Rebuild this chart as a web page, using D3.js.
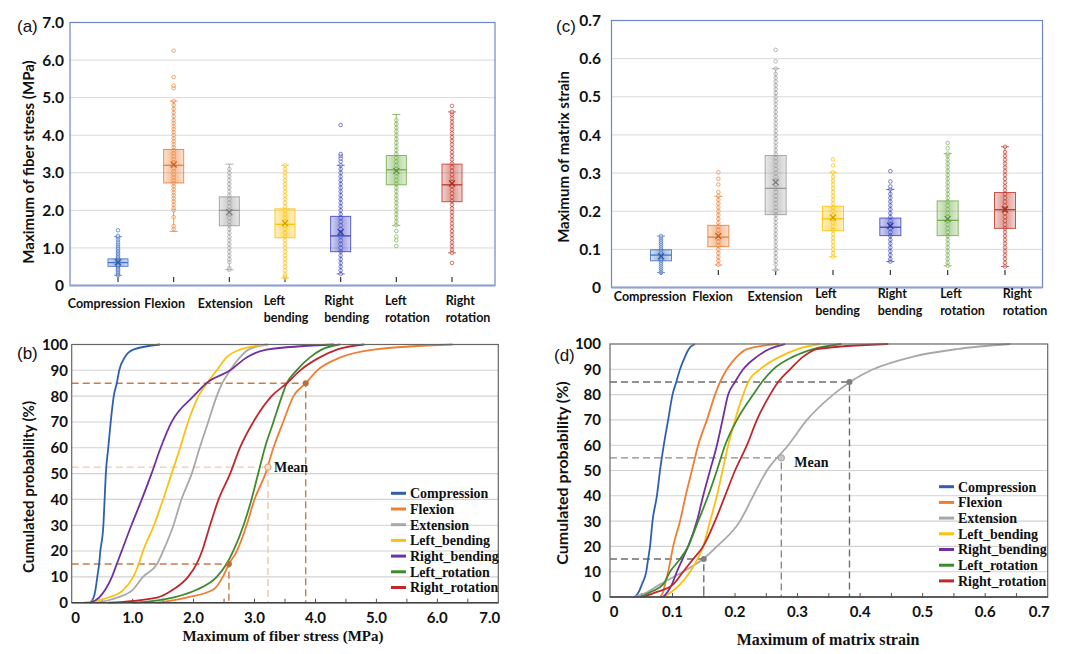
<!DOCTYPE html>
<html>
<head>
<meta charset="utf-8">
<script src="https://cdn.jsdelivr.net/npm/d3@7"></script>
<style>
body { margin: 0; background: #fff; }
svg { display: block; }
.sans { font-family: Lato, "Liberation Sans", sans-serif; font-weight: 700; fill: #111; }
.serif { font-family: "Liberation Serif", "DejaVu Serif", serif; font-weight: 700; fill: #111; }
.plain { font-family: "Liberation Sans", Arial, sans-serif; fill: #111; }
</style>
</head>
<body>
<svg id="chart" width="1080" height="654"></svg>
<script>
// ---- data ----
const categories = ["Compression", "Flexion", "Extension", "Left bending", "Right bending", "Left rotation", "Right rotation"];
const cdfNames = ["Compression", "Flexion", "Extension", "Left_bending", "Right_bending", "Left_rotation", "Right_rotation"];

const boxColors = ["#4472c4", "#ed7d31", "#9a9a9a", "#ffc000", "#3c44c0", "#70ad47", "#c0392b"];
const cdfColors = ["#2f5fb0", "#ef7d32", "#a8a8a8", "#fcc012", "#7030a0", "#3f8a2f", "#c0272d"];

// [whisker min, q1, median, q3, whisker max, mean]
const stressBox = [
    [0.27, 0.51, 0.61, 0.71, 1.30, 0.62],
    [1.44, 2.73, 3.20, 3.62, 4.91, 3.22],
    [0.42, 1.59, 2.00, 2.36, 3.23, 1.95],
    [0.20, 1.27, 1.63, 2.04, 3.20, 1.66],
    [0.31, 0.90, 1.32, 1.84, 3.20, 1.42],
    [1.60, 2.68, 3.08, 3.46, 4.55, 3.05],
    [0.87, 2.23, 2.68, 3.23, 4.62, 2.72]
];
const strainBox = [
    [0.039, 0.070, 0.085, 0.099, 0.135, 0.082],
    [0.059, 0.107, 0.132, 0.163, 0.239, 0.135],
    [0.046, 0.191, 0.260, 0.346, 0.574, 0.276],
    [0.081, 0.149, 0.180, 0.213, 0.302, 0.183],
    [0.068, 0.136, 0.158, 0.182, 0.257, 0.162],
    [0.057, 0.136, 0.176, 0.227, 0.351, 0.180],
    [0.055, 0.155, 0.204, 0.249, 0.369, 0.205]
];

// individual samples drawn as small circles
const stressDots = [
    [0.27, 0.3, 0.33, 0.36, 0.4, 0.43, 0.46, 0.5, 0.53, 0.56, 0.6, 0.63, 0.66, 0.7, 0.73, 0.76, 0.8, 0.84, 0.88, 0.92, 0.96, 1.0, 1.05, 1.1, 1.15, 1.22, 1.28, 1.32, 1.47],
    [1.5, 1.58, 1.82, 2.0, 2.06, 2.15, 2.24, 2.32, 2.4, 2.48, 2.56, 2.64, 2.72, 2.8, 2.88, 2.96, 3.04, 3.12, 3.2, 3.28, 3.36, 3.44, 3.52, 3.6, 3.68, 3.76, 3.84, 3.92, 4.0, 4.08, 4.16, 4.24, 4.32, 4.4, 4.5, 4.6, 4.7, 4.8, 4.91, 5.25, 5.32, 5.55, 6.25],
    [0.42, 0.46, 0.62, 0.7, 0.8, 0.9, 1.0, 1.1, 1.2, 1.3, 1.4, 1.5, 1.6, 1.7, 1.8, 1.9, 2.0, 2.1, 2.2, 2.3, 2.4, 2.5, 2.6, 2.7, 2.8, 2.9, 3.0, 3.1],
    [0.2, 0.25, 0.3, 0.4, 0.5, 0.6, 0.7, 0.8, 0.9, 1.0, 1.1, 1.2, 1.3, 1.4, 1.5, 1.6, 1.7, 1.8, 1.9, 2.0, 2.1, 2.2, 2.3, 2.4, 2.5, 2.6, 2.7, 2.8, 2.9, 3.0, 3.1, 3.2],
    [0.31, 0.4, 0.5, 0.6, 0.7, 0.8, 0.9, 1.0, 1.1, 1.2, 1.3, 1.4, 1.5, 1.6, 1.7, 1.8, 1.9, 2.0, 2.1, 2.2, 2.3, 2.4, 2.5, 2.6, 2.7, 2.8, 2.9, 3.0, 3.1, 3.2, 3.3, 3.38, 3.45, 3.5, 4.27],
    [1.05, 1.2, 1.3, 1.45, 1.6, 1.7, 1.8, 1.9, 2.0, 2.1, 2.2, 2.3, 2.4, 2.5, 2.6, 2.7, 2.8, 2.9, 3.0, 3.1, 3.2, 3.3, 3.4, 3.5, 3.6, 3.7, 3.8, 3.9, 4.0, 4.1, 4.2, 4.3, 4.4],
    [0.6, 0.87, 0.95, 1.05, 1.15, 1.25, 1.35, 1.45, 1.55, 1.65, 1.75, 1.85, 1.95, 2.05, 2.15, 2.25, 2.35, 2.45, 2.55, 2.65, 2.75, 2.85, 2.95, 3.05, 3.15, 3.25, 3.35, 3.45, 3.55, 3.65, 3.75, 3.85, 3.95, 4.05, 4.15, 4.25, 4.35, 4.45, 4.55, 4.62, 4.78]
];
const strainDots = [
    [0.039, 0.045, 0.05, 0.055, 0.06, 0.065, 0.07, 0.075, 0.08, 0.085, 0.09, 0.095, 0.1, 0.105, 0.11, 0.115, 0.12, 0.125, 0.13, 0.135],
    [0.06, 0.07, 0.08, 0.09, 0.1, 0.11, 0.12, 0.13, 0.14, 0.15, 0.16, 0.17, 0.18, 0.19, 0.2, 0.21, 0.22, 0.23, 0.24, 0.25, 0.27, 0.285, 0.302],
    [0.046, 0.06, 0.07, 0.08, 0.09, 0.1, 0.11, 0.12, 0.13, 0.14, 0.15, 0.16, 0.17, 0.18, 0.19, 0.2, 0.21, 0.22, 0.23, 0.24, 0.25, 0.26, 0.27, 0.28, 0.29, 0.3, 0.31, 0.32, 0.33, 0.34, 0.35, 0.36, 0.37, 0.38, 0.39, 0.4, 0.41, 0.42, 0.43, 0.44, 0.45, 0.46, 0.47, 0.48, 0.49, 0.5, 0.51, 0.52, 0.53, 0.54, 0.55, 0.56, 0.574, 0.593, 0.623],
    [0.081, 0.09, 0.1, 0.11, 0.12, 0.13, 0.14, 0.15, 0.16, 0.17, 0.18, 0.19, 0.2, 0.21, 0.22, 0.23, 0.24, 0.25, 0.26, 0.27, 0.28, 0.29, 0.302, 0.32, 0.336],
    [0.068, 0.075, 0.085, 0.095, 0.105, 0.115, 0.125, 0.135, 0.145, 0.155, 0.165, 0.175, 0.185, 0.195, 0.205, 0.215, 0.225, 0.235, 0.245, 0.257, 0.265, 0.278, 0.305],
    [0.057, 0.065, 0.075, 0.085, 0.095, 0.105, 0.115, 0.125, 0.135, 0.145, 0.155, 0.165, 0.175, 0.185, 0.195, 0.205, 0.215, 0.225, 0.235, 0.245, 0.255, 0.265, 0.275, 0.285, 0.295, 0.305, 0.315, 0.325, 0.335, 0.345, 0.351, 0.365, 0.379],
    [0.055, 0.065, 0.075, 0.085, 0.095, 0.105, 0.115, 0.125, 0.135, 0.145, 0.155, 0.165, 0.175, 0.185, 0.195, 0.205, 0.215, 0.225, 0.235, 0.245, 0.255, 0.265, 0.275, 0.285, 0.295, 0.305, 0.315, 0.325, 0.335, 0.345, 0.355, 0.369]
];

// cumulative probability levels (%) and the value reached at each level
const cdfLevels = [0, 2, 5, 10, 15, 20, 30, 40, 50, 60, 70, 80, 85, 90, 95, 98, 100];
const stressCdf = [
    [0.30, 0.36, 0.39, 0.42, 0.45, 0.47, 0.52, 0.54, 0.56, 0.60, 0.64, 0.69, 0.74, 0.78, 0.87, 1.01, 1.45],
    [1.40, 1.88, 2.32, 2.48, 2.58, 2.71, 2.87, 3.00, 3.18, 3.31, 3.47, 3.64, 3.84, 4.03, 4.41, 4.96, 6.25],
    [0.40, 0.75, 1.00, 1.17, 1.40, 1.50, 1.67, 1.80, 1.97, 2.10, 2.24, 2.38, 2.47, 2.60, 2.76, 2.90, 3.22],
    [0.20, 0.60, 0.85, 1.01, 1.10, 1.17, 1.35, 1.50, 1.64, 1.78, 1.91, 2.08, 2.22, 2.38, 2.54, 2.76, 3.20],
    [0.30, 0.45, 0.55, 0.66, 0.74, 0.82, 0.98, 1.15, 1.31, 1.46, 1.64, 2.00, 2.21, 2.60, 2.87, 3.20, 4.30],
    [1.00, 1.66, 2.05, 2.38, 2.54, 2.65, 2.82, 2.95, 3.06, 3.17, 3.31, 3.45, 3.53, 3.69, 3.91, 4.10, 4.40],
    [0.60, 1.40, 1.66, 1.91, 2.05, 2.14, 2.27, 2.41, 2.60, 2.76, 2.98, 3.28, 3.53, 3.75, 4.07, 4.35, 4.80]
];
const strainCdf = [
    [0.040, 0.046, 0.051, 0.058, 0.061, 0.064, 0.068, 0.075, 0.080, 0.086, 0.093, 0.100, 0.106, 0.112, 0.120, 0.126, 0.136],
    [0.080, 0.085, 0.088, 0.093, 0.097, 0.101, 0.112, 0.121, 0.131, 0.141, 0.155, 0.168, 0.176, 0.187, 0.203, 0.219, 0.270],
    [0.037, 0.060, 0.080, 0.117, 0.149, 0.171, 0.208, 0.229, 0.251, 0.285, 0.315, 0.357, 0.384, 0.421, 0.485, 0.555, 0.640],
    [0.085, 0.098, 0.112, 0.128, 0.140, 0.149, 0.160, 0.171, 0.180, 0.189, 0.200, 0.213, 0.221, 0.240, 0.272, 0.300, 0.336],
    [0.085, 0.092, 0.099, 0.107, 0.116, 0.125, 0.139, 0.149, 0.160, 0.171, 0.180, 0.189, 0.200, 0.213, 0.235, 0.255, 0.280],
    [0.048, 0.065, 0.085, 0.096, 0.112, 0.125, 0.141, 0.157, 0.171, 0.184, 0.203, 0.229, 0.243, 0.261, 0.293, 0.325, 0.370],
    [0.053, 0.075, 0.101, 0.117, 0.133, 0.149, 0.168, 0.184, 0.200, 0.219, 0.235, 0.256, 0.269, 0.288, 0.309, 0.331, 0.445]
];

// marked points: [value, cumulative %]
const stressMarks = [[2.58, 15], [3.84, 85]];
const stressMean = [3.22, 52.5];
const strainMarks = [[0.15, 15], [0.383, 85]];
const strainMean = [0.274, 55];

const stressTicks = [0, 1, 2, 3, 4, 5, 6, 7];
const strainTicks = [0, 0.1, 0.2, 0.3, 0.4, 0.5, 0.6, 0.7];
const probTicks = [0, 10, 20, 30, 40, 50, 60, 70, 80, 90, 100];

// ---- drawing ----
const svg = d3.select("#chart");
const defs = svg.append("defs");

boxColors.forEach((c, i) => {
    const g = defs.append("linearGradient")
                  .attr("id", "boxfill" + i)
                  .attr("x1", "0").attr("x2", "1")
                  .attr("y1", "0").attr("y2", "0");
    g.append("stop").attr("offset", "0").attr("stop-color", c).attr("stop-opacity", 0.22);
    g.append("stop").attr("offset", "0.5").attr("stop-color", c).attr("stop-opacity", 0.55);
    g.append("stop").attr("offset", "1").attr("stop-color", c).attr("stop-opacity", 0.22);
});

function boxPanel(cfg) {
    const g = svg.append("g");
    const y = d3.scaleLinear().domain(cfg.domain).range([cfg.y1, cfg.y0]);
    const x = d3.scalePoint().domain(categories).range(cfg.catRange);
    const xl = d3.scalePoint().domain(categories).range(cfg.labelRange);

    g.selectAll("line.grid")
     .data(cfg.ticks.slice(1, -1))
     .enter()
     .append("line")
     .attr("class", "grid")
     .attr("x1", cfg.x0).attr("x2", cfg.x1)
     .attr("y1", d => y(d)).attr("y2", d => y(d))
     .attr("stroke", "#d9d9d9")
     .attr("stroke-width", 1);

    g.append("rect")
     .attr("x", cfg.x0).attr("y", cfg.y0)
     .attr("width", cfg.x1 - cfg.x0).attr("height", cfg.y1 - cfg.y0)
     .attr("fill", "none")
     .attr("stroke", "#6f86c6")
     .attr("stroke-width", 1.2);
    g.append("line")
     .attr("x1", cfg.x0).attr("x2", cfg.x1)
     .attr("y1", cfg.y1).attr("y2", cfg.y1)
     .attr("stroke", "#8ea0d4")
     .attr("stroke-width", 2);

    g.selectAll("text.tick")
     .data(cfg.ticks)
     .enter()
     .append("text")
     .attr("class", "sans")
     .attr("x", cfg.tickX)
     .attr("y", d => y(d))
     .attr("dy", "0.36em")
     .attr("text-anchor", "end")
     .style("font-size", "15.5px")
     .text(cfg.tickFormat);

    g.selectAll("line.xtick")
     .data(categories)
     .enter()
     .append("line")
     .attr("x1", d => x(d)).attr("x2", d => x(d))
     .attr("y1", cfg.xTickY).attr("y2", cfg.xTickY + 5)
     .attr("stroke", "#333")
     .attr("stroke-width", 1.2);

    categories.forEach((cat, i) => {
        const s = cfg.stats[i];
        const c = boxColors[i];
        const cx = x(cat);
        const hw = cfg.boxWidth / 2;
        const cg = g.append("g");

        cg.append("rect")
          .attr("x", cx - hw).attr("y", y(s[3]))
          .attr("width", cfg.boxWidth).attr("height", y(s[1]) - y(s[3]))
          .attr("fill", "url(#boxfill" + i + ")");

        cg.append("line")
          .attr("x1", cx).attr("x2", cx)
          .attr("y1", y(s[0])).attr("y2", y(s[4]))
          .attr("stroke", c).attr("stroke-opacity", 0.8)
          .attr("stroke-width", 1);
        [s[0], s[4]].forEach(v => {
            cg.append("line")
              .attr("x1", cx - 4).attr("x2", cx + 4)
              .attr("y1", y(v)).attr("y2", y(v))
              .attr("stroke", c).attr("stroke-opacity", 0.8)
              .attr("stroke-width", 1);
        });

        cg.selectAll("circle")
          .data(cfg.dots[i])
          .enter()
          .append("circle")
          .attr("cx", cx)
          .attr("cy", d => y(d))
          .attr("r", 1.8)
          .attr("fill", "#fff").attr("fill-opacity", 0.4)
          .attr("stroke", c).attr("stroke-opacity", 0.75)
          .attr("stroke-width", 0.9);

        cg.append("rect")
          .attr("x", cx - hw).attr("y", y(s[3]))
          .attr("width", cfg.boxWidth).attr("height", y(s[1]) - y(s[3]))
          .attr("fill", "none")
          .attr("stroke", c).attr("stroke-opacity", 0.85)
          .attr("stroke-width", 1);

        cg.append("line")
          .attr("x1", cx - hw).attr("x2", cx + hw)
          .attr("y1", y(s[2])).attr("y2", y(s[2]))
          .attr("stroke", c).attr("stroke-width", 1.3);

        const my = y(s[5]);
        cg.append("path")
          .attr("d", `M${cx - 3},${my - 3}L${cx + 3},${my + 3}M${cx - 3},${my + 3}L${cx + 3},${my - 3}`)
          .attr("stroke", d3.color(c).darker(0.6))
          .attr("stroke-width", 1.2);
    });

    // category labels: block centred on the label position, lines left-aligned
    categories.forEach(cat => {
        const words = cat.split(" ");
        const t = g.append("text")
                   .attr("class", "sans")
                   .style("font-size", "12.5px");
        if (words.length === 1) {
            t.attr("x", xl(cat)).attr("y", cfg.labelY + 3)
             .attr("text-anchor", "middle")
             .text(cat);
        } else {
            const spans = words.map((w, k) => t.append("tspan")
                                               .attr("y", cfg.labelY + k * 17)
                                               .text(w));
            const wMax = d3.max(spans, s => s.node().getComputedTextLength());
            spans.forEach(s => s.attr("x", xl(cat) - wMax / 2));
        }
    });

    g.append("text")
     .attr("class", "sans")
     .attr("transform", `translate(${cfg.yLabelX},${cfg.yLabelY}) rotate(-90)`)
     .attr("text-anchor", "middle")
     .style("font-size", "15px")
     .text(cfg.yLabel);

    g.append("text")
     .attr("class", "plain")
     .attr("x", cfg.tagX).attr("y", cfg.tagY)
     .style("font-size", "17px")
     .text(cfg.tag);
}

function cdfPanel(cfg) {
    const g = svg.append("g");
    const x = d3.scaleLinear().domain(cfg.domain).range([cfg.x0, cfg.x1]);
    const y = d3.scaleLinear().domain([0, 100]).range([cfg.y1, cfg.y0]);

    g.selectAll("line.grid")
     .data(probTicks.slice(1, -1))
     .enter()
     .append("line")
     .attr("x1", cfg.x0).attr("x2", cfg.x1)
     .attr("y1", d => y(d)).attr("y2", d => y(d))
     .attr("stroke", "#d2d2d2")
     .attr("stroke-width", 1.1);

    g.selectAll("line.minor")
     .data(cfg.minorTicks)
     .enter()
     .append("line")
     .attr("x1", d => x(d)).attr("x2", d => x(d))
     .attr("y1", cfg.y1).attr("y2", cfg.y1 - 4)
     .attr("stroke", "#555")
     .attr("stroke-width", 1);

    g.selectAll("text.xt")
     .data(cfg.xTicks)
     .enter()
     .append("text")
     .attr("class", "sans")
     .attr("x", d => x(d))
     .attr("y", cfg.y1 + 20)
     .attr("text-anchor", (d, i) => i === cfg.xTicks.length - 1 ? "end" : "middle")
     .attr("dx", (d, i) => i === 0 ? 4 : (i === cfg.xTicks.length - 1 ? 2 : 0))
     .style("font-size", "15px")
     .text(cfg.xFormat);

    g.selectAll("text.yt")
     .data(probTicks)
     .enter()
     .append("text")
     .attr("class", "sans")
     .attr("x", cfg.tickX)
     .attr("y", d => y(d))
     .attr("dy", "0.36em")
     .attr("text-anchor", "end")
     .style("font-size", "15px")
     .text(d => d);

    // dashed guides for the 15 %, mean and 85 % points
    const guide = (p, col) => {
        g.append("path")
         .attr("d", `M${cfg.x0},${y(p[1])}H${x(p[0])}V${cfg.y1}`)
         .attr("fill", "none")
         .attr("stroke", col)
         .attr("stroke-width", 1.4)
         .attr("stroke-dasharray", "7,4");
    };
    cfg.marks.forEach(p => guide(p, cfg.guideColor));
    guide(cfg.mean, cfg.meanGuideColor);

    const line = d3.line()
                   .curve(d3.curveMonotoneX)
                   .x(d => x(d[0]))
                   .y(d => y(d[1]));

    g.selectAll("path.cdf")
     .data(cfg.series)
     .enter()
     .append("path")
     .attr("class", "cdf")
     .attr("d", vals => line(vals.map((v, k) => [v, cdfLevels[k]])))
     .attr("fill", "none")
     .attr("stroke", (d, i) => cdfColors[i])
     .attr("stroke-width", 1.8)
     .attr("stroke-linejoin", "round");

    g.selectAll("circle.mark")
     .data(cfg.marks)
     .enter()
     .append("circle")
     .attr("cx", d => x(d[0])).attr("cy", d => y(d[1]))
     .attr("r", 3)
     .attr("fill", cfg.markColor);
    g.append("circle")
     .attr("cx", x(cfg.mean[0])).attr("cy", y(cfg.mean[1]))
     .attr("r", 3.2)
     .attr("fill", cfg.meanFill)
     .attr("stroke", cfg.meanStroke)
     .attr("stroke-width", 1);
    g.append("text")
     .attr("class", "serif")
     .attr("x", x(cfg.mean[0]) + cfg.meanDx)
     .attr("y", y(cfg.mean[1]) + cfg.meanDy)
     .style("font-size", "14px")
     .text("Mean");

    g.append("rect")
     .attr("x", cfg.x0).attr("y", cfg.y0)
     .attr("width", cfg.x1 - cfg.x0).attr("height", cfg.y1 - cfg.y0)
     .attr("fill", "none")
     .attr("stroke", "#666")
     .attr("stroke-width", 1.2);
    g.append("line")
     .attr("x1", cfg.x0).attr("x2", cfg.x1)
     .attr("y1", cfg.y1).attr("y2", cfg.y1)
     .attr("stroke", "#444")
     .attr("stroke-width", 1.6);

    const lg = g.selectAll("g.legend")
                .data(cdfNames)
                .enter()
                .append("g")
                .attr("transform", (d, i) => `translate(${cfg.legendX},${cfg.legendY + i * 15.7})`);
    lg.append("line")
      .attr("x1", 0).attr("x2", 15)
      .attr("stroke", (d, i) => cdfColors[i])
      .attr("stroke-width", 3);
    lg.append("text")
      .attr("class", "serif")
      .attr("x", 19)
      .attr("dy", "0.35em")
      .style("font-size", "14px")
      .text(d => d);

    g.append("text")
     .attr("class", "sans")
     .attr("transform", `translate(${cfg.yLabelX},${cfg.yLabelY}) rotate(-90)`)
     .attr("text-anchor", "middle")
     .style("font-size", cfg.yLabelSize)
     .text("Cumulated probability (%)");

    g.append("text")
     .attr("class", "serif")
     .attr("x", cfg.xLabelX).attr("y", cfg.xLabelY)
     .attr("text-anchor", "middle")
     .style("font-size", cfg.xLabelSize)
     .text(cfg.xLabel);

    g.append("text")
     .attr("class", "plain")
     .attr("x", cfg.tagX).attr("y", cfg.tagY)
     .style("font-size", "17px")
     .text(cfg.tag);
}

boxPanel({
    x0: 70, x1: 495, y0: 22.5, y1: 285.5,
    domain: [0, 7], ticks: stressTicks,
    tickFormat: d => d === 0 ? "0" : d.toFixed(1), tickX: 64,
    catRange: [118, 452], labelRange: [104, 468], labelY: 305, xTickY: 277,
    boxWidth: 20, stats: stressBox, dots: stressDots,
    yLabel: "Maximum of fiber stress (MPa)", yLabelX: 34, yLabelY: 162,
    tag: "(a)", tagX: 17, tagY: 32
});

boxPanel({
    x0: 611.5, x1: 1042.5, y0: 20.5, y1: 287.5,
    domain: [0, 0.7], ticks: strainTicks,
    tickFormat: d => d === 0 ? "0" : d.toFixed(1), tickX: 601,
    catRange: [661, 1005], labelRange: [650, 1025], labelY: 298, xTickY: 270,
    boxWidth: 21, stats: strainBox, dots: strainDots,
    yLabel: "Maximum of matrix strain", yLabelX: 569, yLabelY: 157,
    tag: "(c)", tagX: 556, tagY: 32
});

cdfPanel({
    x0: 71.7, x1: 498.3, y0: 344.5, y1: 602.7,
    domain: [0, 7], xTicks: stressTicks,
    minorTicks: [0.5, 1, 1.5, 2, 2.5, 3, 3.5, 4, 4.5, 5, 5.5, 6, 6.5],
    xFormat: d => d === 0 ? "0" : d.toFixed(1), tickX: 68,
    series: stressCdf, marks: stressMarks, mean: stressMean,
    guideColor: "#c97b45", meanGuideColor: "#f3c9a3", markColor: "#b86f3a",
    meanFill: "#f8e0c8", meanStroke: "#d9a070", meanDx: 6, meanDy: 5,
    legendX: 391, legendY: 493.3,
    yLabelX: 34, yLabelY: 487, yLabelSize: "15px",
    xLabel: "Maximum of fiber stress (MPa)", xLabelX: 283, xLabelY: 641, xLabelSize: "15px",
    tag: "(b)", tagX: 17, tagY: 359
});

cdfPanel({
    x0: 610, x1: 1047.7, y0: 344, y1: 597,
    domain: [0, 0.7], xTicks: strainTicks,
    minorTicks: [0.05, 0.1, 0.15, 0.2, 0.25, 0.3, 0.35, 0.4, 0.45, 0.5, 0.55, 0.6, 0.65],
    xFormat: d => d === 0 ? "0" : d.toFixed(1), tickX: 601,
    series: strainCdf, marks: strainMarks, mean: strainMean,
    guideColor: "#6e6e6e", meanGuideColor: "#8a8a8a", markColor: "#808080",
    meanFill: "#c8c8c8", meanStroke: "#a0a0a0", meanDx: 13, meanDy: 9,
    legendX: 939, legendY: 486.7,
    yLabelX: 568, yLabelY: 473, yLabelSize: "16px",
    xLabel: "Maximum of matrix strain", xLabelX: 828, xLabelY: 645, xLabelSize: "16px",
    tag: "(d)", tagX: 554, tagY: 361
});
</script>
</body>
</html>
